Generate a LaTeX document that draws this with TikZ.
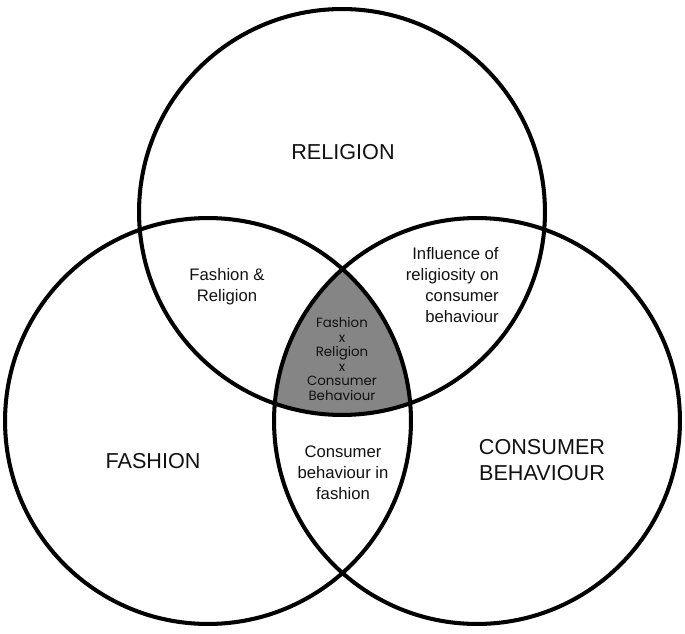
\documentclass[tikz,border=0pt]{standalone}
\usepackage{fontspec}
\setmainfont{Liberation Sans}
\newfontfamily\geofont{Poppins}
\usetikzlibrary{positioning}
\definecolor{ink}{HTML}{000000}
\definecolor{core}{HTML}{858585}
\definecolor{label}{HTML}{111111}
\tikzset{
  setring/.style={draw=ink, circle, line width=2.3pt, minimum size=8.12cm, inner sep=0pt},
  setname/.style={font=\fontsize{12.3}{15}\selectfont, text=label, align=center, inner sep=0pt},
  pairname/.style={font=\fontsize{9.5}{11.9}\selectfont, text=label, inner sep=0pt},
  corename/.style={font=\geofont\fontsize{7.6}{8.3}\selectfont, text=label, align=center, inner sep=0pt}
}

\begin{document}
\begin{tikzpicture}[x=0.02cm,y=-0.02cm]
        \useasboundingbox (0,0) rectangle (685,634);

        % circle centres
        \coordinate (relc) at (342,212);
        \coordinate (fasc) at (208,421);
        \coordinate (conc) at (477,421);

        % shared core
        \begin{scope}
          \clip (relc) circle[radius=4.06cm];
          \clip (fasc) circle[radius=4.06cm];
          \fill[core] (conc) circle[radius=4.06cm];
        \end{scope}

        % the three sets
        \node[setring] (religion) at (relc) {};
        \node[setring] (fashion) at (fasc) {};
        \node[setring] (consumer) at (conc) {};

        % set names
        \node[setname] (rellab) at (343,152) {RELIGION};
        \node[setname] (faslab) at (153,461) {FASHION};
        \node[setname] (conlab) at (542,460) {CONSUMER\\BEHAVIOUR};

        % overlaps
        \node[pairname, align=center] (fasrel) at (227,287) {Fashion \&\\Religion};
        \node[pairname, align=right, anchor=east] (relcon) at (499,285)
          {Influence of\\religiosity on\\consumer\\behaviour};
        \node[pairname, align=center] (fascon) at (343,473)
          {Consumer\\behaviour in\\fashion};
        \node[corename] (all) at (342,359)
          {Fashion\\x\\Religion\\x\\Consumer\\Behaviour};
      \end{tikzpicture}
\end{document}
